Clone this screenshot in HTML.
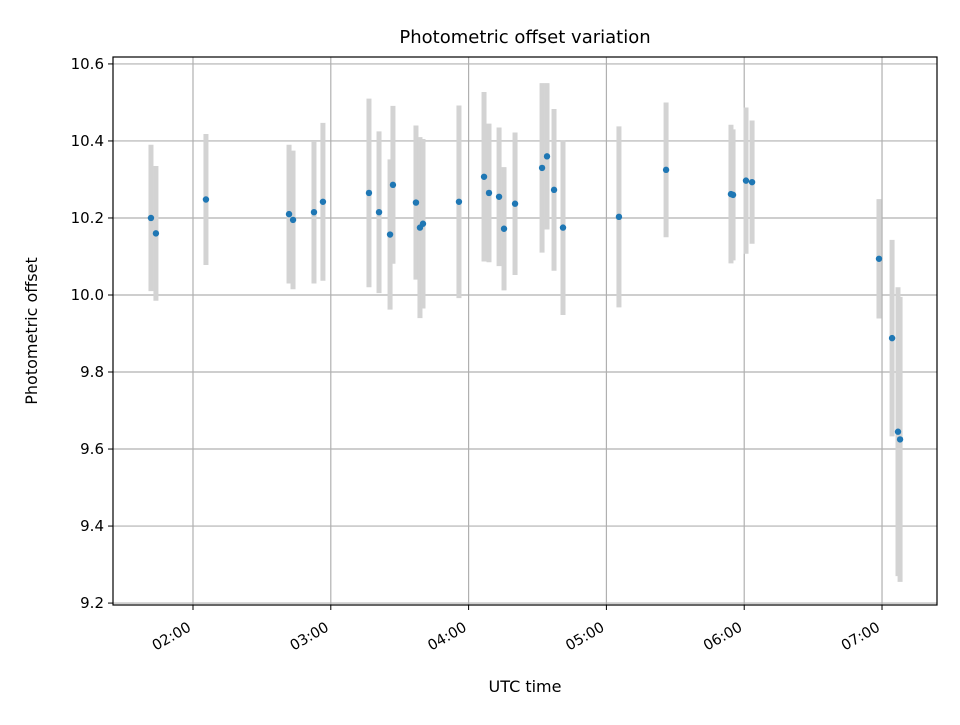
<!DOCTYPE html>
<html><head><meta charset="utf-8"><style>
body{margin:0;background:#fff;font-family:"Liberation Sans","DejaVu Sans",sans-serif;}
svg text{font-family:"DejaVu Sans","Liberation Sans",sans-serif;}
</style></head><body>
<svg id="chart" width="960" height="720" xmlns="http://www.w3.org/2000/svg"></svg>
<script>
const times=[1.695,1.731,2.094,2.697,2.726,2.878,2.943,3.277,3.350,3.430,3.451,3.618,3.647,3.669,3.930,4.112,4.148,4.221,4.257,4.337,4.533,4.569,4.620,4.685,5.091,5.433,5.904,5.919,6.013,6.057,6.978,7.073,7.116,7.131];
const offsets=[10.20,10.16,10.248,10.21,10.195,10.215,10.242,10.265,10.215,10.157,10.286,10.24,10.175,10.185,10.242,10.307,10.265,10.255,10.172,10.237,10.33,10.36,10.273,10.175,10.203,10.325,10.262,10.26,10.297,10.293,10.094,9.888,9.645,9.625];
const errors=[0.19,0.175,0.17,0.18,0.18,0.185,0.205,0.245,0.21,0.195,0.205,0.2,0.235,0.22,0.25,0.22,0.18,0.18,0.16,0.185,0.22,0.19,0.21,0.227,0.235,0.175,0.18,0.17,0.19,0.16,0.155,0.255,0.375,0.37];
const xTicks=[2,3,4,5,6,7];
const xTickLabels=["02:00","03:00","04:00","05:00","06:00","07:00"];
const yTicks=[9.2,9.4,9.6,9.8,10.0,10.2,10.4,10.6];
const yTickLabels=["9.2","9.4","9.6","9.8","10.0","10.2","10.4","10.6"];

const L=113,R=937,T=57,B=605;
const x0=1.4195,x1=7.399,y0=9.195,y1=10.618;
const X=v=>L+(v-x0)/(x1-x0)*(R-L);
const Y=v=>B-(v-y0)/(y1-y0)*(B-T);
const svg=document.getElementById('chart');
const NS='http://www.w3.org/2000/svg';
function mk(tag,attrs,parent){const e=document.createElementNS(NS,tag);for(const k in attrs)e.setAttribute(k,attrs[k]);(parent||svg).appendChild(e);return e;}

xTicks.forEach((t,i)=>{
  const g=mk('line',{x1:X(t),x2:X(t),y1:T,y2:B,stroke:'#b0b0b0','stroke-width':1.2});
  
  
  const tk=mk('line',{x1:X(t),x2:X(t),y1:B,y2:B+5,stroke:'#000','stroke-width':1});
  
  
  const ax=X(t)-1, ay=B+25;
  const tx=mk('text',{x:ax,y:ay,'font-size':14.5,'text-anchor':'end',transform:`rotate(-30 ${ax} ${ay})`});
  tx.textContent=xTickLabels[i];
  
  
});
yTicks.forEach((t,i)=>{
  const g=mk('line',{x1:L,x2:R,y1:Y(t),y2:Y(t),stroke:'#b0b0b0','stroke-width':1.2});
  
  
  const tk=mk('line',{x1:L-5,x2:L,y1:Y(t),y2:Y(t),stroke:'#000','stroke-width':1});
  
  
  const tx=mk('text',{x:L-9,y:Y(t)+5,'font-size':15,'text-anchor':'end'});
  tx.textContent=yTickLabels[i];
  
  
});
times.forEach((t,i)=>{
  const e=mk('line',{x1:X(t),x2:X(t),y1:Y(offsets[i]+errors[i]),y2:Y(offsets[i]-errors[i]),stroke:'#d3d3d3','stroke-width':5});
  
  
});
times.forEach((t,i)=>{
  const c=mk('circle',{cx:X(t),cy:Y(offsets[i]),r:3.2,fill:'#1f77b4'});
  
  
});
const fr=mk('rect',{x:L,y:T,width:R-L,height:B-T,fill:'none',stroke:'#000','stroke-width':1.2});


const ti=mk('text',{x:(L+R)/2,y:43,'font-size':18,'text-anchor':'middle'});
ti.textContent='Photometric offset variation';


const xl=mk('text',{x:(L+R)/2,y:692,'font-size':16,'text-anchor':'middle'});
xl.textContent='UTC time';


const yl=mk('text',{x:37,y:(T+B)/2,'font-size':16,'text-anchor':'middle',transform:`rotate(-90 37 ${(T+B)/2})`});
yl.textContent='Photometric offset';


</script>
</body></html>
